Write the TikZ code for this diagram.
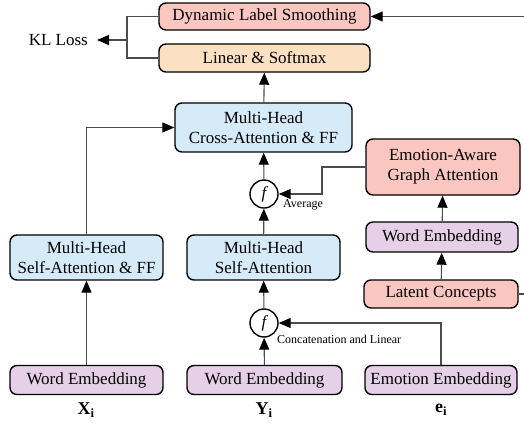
\documentclass[tikz,border=0pt]{standalone}
\usepackage{fontspec}
\setmainfont{Liberation Serif}
\usetikzlibrary{arrows.meta}
\definecolor{pinkbox}{HTML}{F9C6C0}
\definecolor{orangebox}{HTML}{FBE1C2}
\definecolor{bluebox}{HTML}{D5EBF8}
\definecolor{purplebox}{HTML}{E6D0E8}
\tikzset{
	block/.style args = {#1}{draw, line width=1.4pt, rounded corners=7pt, fill=#1, align=center, inner sep=0pt, font=\fontsize{17}{20}\selectfont},
	block/.default = bluebox,
	fnode/.style = {circle, draw, fill=white, line width=1.4pt, minimum size=28pt, inner sep=0pt, font=\fontsize{17}{20}\selectfont\itshape},
	link/.style = {draw=black!70, line width=1.1pt, -{Triangle[length=12pt, width=10pt, color=black]}},
	plain/.style = {draw=black!70, line width=1.1pt},
	small/.style = {font=\fontsize{12}{14}\selectfont, inner sep=0pt},
}

\begin{document}
\begin{tikzpicture}[x=1pt, y=-1pt]
	\useasboundingbox (0,0) rectangle (524,426);
	% top
	\node[block=pinkbox, minimum width=211pt, minimum height=27pt] (dls) at (264.5,16.5) {Dynamic Label Smoothing};
	\node[block=orangebox, minimum width=211pt, minimum height=28pt] (lin) at (264.5,58) {Linear \& Softmax};
	\node[font=\fontsize{17}{20}\selectfont, inner ysep=0pt, inner xsep=0pt, anchor=east] (kl) at (88,40) {KL Loss};
	\node[block, minimum width=177pt, minimum height=49pt] (cross) at (263.5,127.5) {Multi-Head\\Cross-Attention \& FF};
	% concept branch
	\node[block=pinkbox, minimum width=154pt, minimum height=56pt] (eaga) at (443,167) {Emotion-Aware\\Graph Attention};
	\node[block=purplebox, minimum width=152pt, minimum height=30pt] (wordE) at (442,237) {Word Embedding};
	\node[block=pinkbox, minimum width=154pt, minimum height=28pt] (latent) at (441,294) {Latent Concepts};
	% encoder and decoder
	\node[fnode] (fa) at (264,194) {f};
	\node[small, anchor=west] (avg) at (283,205) {Average};
	\node[block, minimum width=153pt, minimum height=45pt] (selfff) at (86.5,257.5) {Multi-Head\\Self-Attention \& FF};
	\node[block, minimum width=153pt, minimum height=45pt] (self) at (263.5,257.5) {Multi-Head\\Self-Attention};
	\node[fnode] (fc) at (264,323) {f};
	\node[small, anchor=west] (cat) at (277,339) {Concatenation and Linear};
	\node[block=purplebox, minimum width=153pt, minimum height=29pt] (wx) at (86.5,380) {Word Embedding};
	\node[block=purplebox, minimum width=155pt, minimum height=29pt] (wy) at (264.5,380) {Word Embedding};
	\node[block=purplebox, minimum width=152pt, minimum height=29pt] (emo) at (441,380) {Emotion Embedding};
	\node[font=\fontsize{18}{20}\selectfont\bfseries] (x) at (86,410) {X\textsubscript{i}};
	\node[font=\fontsize{18}{20}\selectfont\bfseries] (y) at (264,410) {Y\textsubscript{i}};
	\node[font=\fontsize{18}{20}\selectfont\bfseries] (e) at (441,410) {e\textsubscript{i}};

	\foreach \a/\b in {cross/lin, fa/cross, self/fa, fc/self, wy/fc, wx/selfff, wordE/eaga, latent/wordE} {
		\draw[link] (\a) -- (\b);
	}
	\draw[link] (selfff.north) |- (cross.west);
	\draw[link] (eaga.west) -- (322,167) |- (fa.east);
	\draw[link] (emo.north) |- (fc.east);
	\draw[link] (latent.east) -- (530,294) |- (dls.east);
	\draw[plain] (dls.west) -| (127,40) |- (lin.west);
	\draw[link, shorten >=9pt] (127,40) -- (kl.east);
\end{tikzpicture}
\end{document}
